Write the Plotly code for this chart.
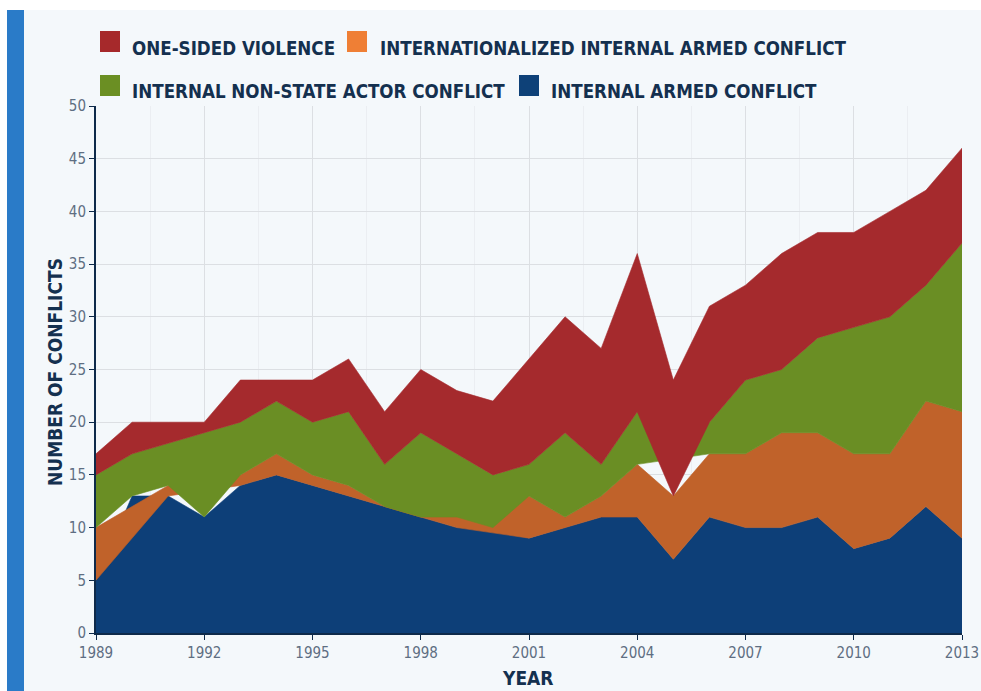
import plotly.graph_objects as go

# ---------------- data ----------------
years = list(range(1989, 2014))
internal_armed = [5, 13, 13, 11, 14, 15, 14, 13, 12, 11, 10, 10, 9, 10, 11, 11, 7, 11, 10, 10, 11, 8, 9, 12, 9]
internationalized = [5, None, 1, None, 1, 2, 1, 1, 0, 0, 1, None, 4, 1, 2, 5, 6, 6, 7, 9, 8, 9, 8, 10, 12]
non_state = [5, 4, 4, 8, 5, 5, 5, 7, 4, 8, 6, 5, 3, 8, 3, 5, None, 3, 7, 6, 9, 12, 13, 11, 16]
one_sided = [2, 3, 2, 1, 4, 2, 4, 5, 5, 6, 6, 7, 10, 11, 11, 15, 11, 11, 9, 11, 10, 9, 10, 9, 9]

series_names = ["INTERNAL ARMED CONFLICT", "INTERNATIONALIZED INTERNAL ARMED CONFLICT",
                "INTERNAL NON-STATE ACTOR CONFLICT", "ONE-SIDED VIOLENCE"]
series_values = [internal_armed, internationalized, non_state, one_sided]
area_colors = ["#0D3F78", "#C0622A", "#6A8E24", "#A52A2D"]
legend_colors = ["#0E4178", "#EF7F35", "#6B8F23", "#A6292B"]

x_ticks = list(range(1989, 2014, 3))
y_ticks = list(range(0, 51, 5))

FONT = "Liberation Sans Narrow, DejaVu Sans Condensed, Roboto, sans-serif"
NAVY = "#14304F"
TICK_GREY = "#5E6E82"

W, H = 981, 691
L, R, T, B = 96, 19, 106, 58
PW, PH = W - L - R, H - T - B


def px_x(px):
    return (px - L) / PW


def px_y(py):
    return (H - B - py) / PH


fig = go.Figure()

# stacked polygons (each layer drawn over its own defined years)
for i, (name, vals) in enumerate(zip(series_names, series_values)):
    xs, tops, bottoms = [], [], []
    for k, yr in enumerate(years):
        v = vals[k]
        if v is None:
            continue
        base = sum((series_values[j][k] or 0) for j in range(i))
        xs.append(yr)
        bottoms.append(base)
        tops.append(base + v)
    fig.add_trace(go.Scatter(
        x=xs + xs[::-1], y=tops + bottoms[::-1],
        fill="toself", fillcolor=area_colors[i], mode="lines",
        line=dict(width=0.6, color=area_colors[i]), name=name,
        showlegend=False, hoverinfo="skip"))

shapes = []
# background pieces
shapes.append(dict(type="rect", xref="paper", yref="paper", layer="below",
                   x0=px_x(0), x1=px_x(W), y0=px_y(0), y1=px_y(10),
                   fillcolor="white", line=dict(width=0)))
shapes.append(dict(type="rect", xref="paper", yref="paper", layer="below",
                   x0=px_x(0), x1=px_x(7), y0=px_y(0), y1=px_y(H),
                   fillcolor="white", line=dict(width=0)))
shapes.append(dict(type="rect", xref="paper", yref="paper", layer="below",
                   x0=px_x(7), x1=px_x(24), y0=px_y(10), y1=px_y(H),
                   fillcolor="#2A7BC8", line=dict(width=0)))

# manual legend
legend_items = [
    (3, 100, 31, 130, 48.5),
    (1, 347, 31, 378, 48.5),
    (2, 100, 75, 130, 91.5),
    (0, 519, 75, 549, 91.5),
]
annotations = []
for idx, sx, sy, tx, ty in legend_items:
    shapes.append(dict(type="rect", xref="paper", yref="paper",
                       x0=px_x(sx), x1=px_x(sx + 20), y0=px_y(sy + 21), y1=px_y(sy),
                       fillcolor=legend_colors[idx], line=dict(width=0)))
    annotations.append(dict(xref="paper", yref="paper", x=px_x(tx), y=px_y(ty),
                            xanchor="left", yanchor="middle", showarrow=False,
                            text=series_names[idx],
                            font=dict(family=FONT, size=18.6, color=NAVY, weight="bold")))

annotations.append(dict(xref="paper", yref="paper", x=px_x(55), y=px_y(372),
                        xanchor="center", yanchor="middle", showarrow=False, textangle=-90,
                        text="NUMBER OF CONFLICTS",
                        font=dict(family=FONT, size=19, color=NAVY, weight="bold")))
annotations.append(dict(xref="paper", yref="paper", x=px_x(527), y=px_y(678),
                        xanchor="center", yanchor="middle", showarrow=False,
                        text="YEAR",
                        font=dict(family=FONT, size=19, color=NAVY, weight="bold")))

axis_common = dict(showgrid=True, gridcolor="#DCDFE3", gridwidth=1, zeroline=False,
                   showline=True, linecolor="#0E2A4A", linewidth=2, automargin=False,
                   ticks="outside", ticklen=5, tickcolor="#0E2A4A", tickwidth=1,
                   tickfont=dict(family=FONT, size=15, color=TICK_GREY))

fig.update_layout(
    width=W, height=H, autosize=False,
    margin=dict(l=L, r=R, t=T, b=B),
    paper_bgcolor="#F4F8FB", plot_bgcolor="#F4F8FB",
    showlegend=False,
    xaxis=dict(range=[years[0], years[-1]], tickvals=x_ticks,
               ticktext=[str(v) for v in x_ticks],
               minor=dict(dtick=1.5, tick0=1989, showgrid=True, gridcolor="#EBEEF2", ticks=""),
               **axis_common),
    yaxis=dict(range=[0, 50], tickvals=y_ticks, ticktext=[str(v) for v in y_ticks],
               **axis_common),
    shapes=shapes,
    annotations=annotations,
)

fig.write_html(
    "out.html",
    config=dict(responsive=False, displayModeBar=False),
    post_script="document.body.style.margin='0';document.body.style.overflow='hidden';",
)
